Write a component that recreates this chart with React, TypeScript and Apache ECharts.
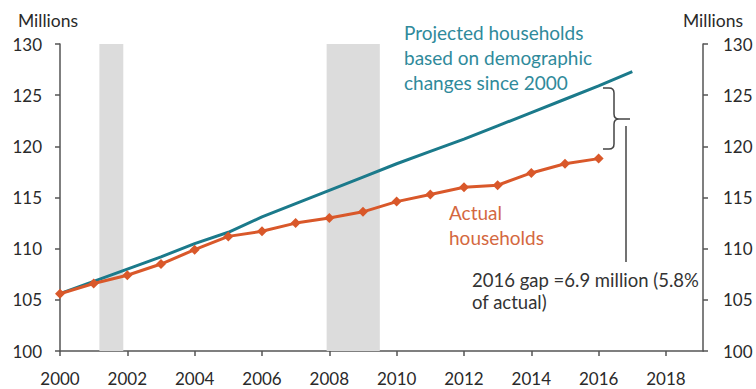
import React, { useEffect, useRef } from "react";
import * as echarts from "echarts";

const years = [2000, 2001, 2002, 2003, 2004, 2005, 2006, 2007, 2008, 2009, 2010, 2011, 2012, 2013, 2014, 2015, 2016, 2017];
const projected = [105.6, 106.8, 108.0, 109.2, 110.5, 111.6, 113.1, 114.4, 115.7, 117.0, 118.3, 119.5, 120.7, 122.0, 123.3, 124.6, 125.9, 127.3];
const actualYears = [2000, 2001, 2002, 2003, 2004, 2005, 2006, 2007, 2008, 2009, 2010, 2011, 2012, 2013, 2014, 2015, 2016];
const actual = [105.6, 106.6, 107.4, 108.5, 109.9, 111.2, 111.7, 112.5, 113.0, 113.6, 114.6, 115.3, 116.0, 116.2, 117.4, 118.3, 118.8];
const recessions: [number, number][] = [
  [2001.17, 2001.88],
  [2007.92, 2009.5],
];
const yTicks = { min: 100, max: 130, interval: 5 };
const xTicks = { min: 2000, max: 2019.1, interval: 2 };

const FONT = "Lato, 'Open Sans', sans-serif";
const TEAL = "#1b7a8b";
const ORANGE = "#d9582a";
const AXIS = "#555555";

const bracketPath =
  "M 603 88 L 609 88 Q 614 88 614 93 L 614 114 Q 614 119 619 119 L 630 119 M 619 119 Q 614 119 614 124 L 614 144 Q 614 149 609 149 L 603 149";
echarts.graphic.registerShape("bracket", echarts.graphic.extendPath(bracketPath, {}));

export default function App() {
  const ref = useRef<HTMLDivElement>(null);
  useEffect(() => {
    document.body.style.margin = "0";
    if (!ref.current) return;
    const chart = echarts.init(ref.current, undefined, { renderer: "svg" });
    const yAxisBase = (pos: "left" | "right") => ({
      type: "value" as const,
      position: pos,
      min: yTicks.min,
      max: yTicks.max,
      interval: yTicks.interval,
      axisLine: { show: true, lineStyle: { color: AXIS, width: 1.5 } },
      axisTick: { show: true, inside: false, length: 5, lineStyle: { color: AXIS, width: 1.5 } },
      splitLine: { show: false },
      axisLabel: { color: "#2a2a2a", fontSize: 17, fontFamily: FONT, margin: pos === "left" ? 18 : 20 },
    });
    chart.setOption({
      animation: false,
      backgroundColor: "#ffffff",
      grid: { left: 60, right: 53, top: 44, bottom: 38, containLabel: false },
      xAxis: {
        type: "value",
        min: xTicks.min,
        max: xTicks.max,
        interval: xTicks.interval,
        axisLine: { show: true, onZero: false, lineStyle: { color: AXIS, width: 1.5 } },
        axisTick: { show: true, length: 5, lineStyle: { color: AXIS, width: 1.5 } },
        splitLine: { show: false },
        axisLabel: {
          color: "#2a2a2a",
          fontSize: 17,
          fontFamily: FONT,
          margin: 19,
          showMaxLabel: false,
          formatter: (v: number) => String(Math.round(v)),
        },
      },
      yAxis: [yAxisBase("left"), yAxisBase("right")],
      series: [
        {
          type: "line",
          name: "recessions",
          data: [],
          z: 1,
          silent: true,
          markArea: {
            silent: true,
            itemStyle: { color: "#dcdcdc" },
            data: recessions.map(([a, b]) => [{ xAxis: a }, { xAxis: b }]),
          },
        },
        {
          type: "line",
          name: "Projected households",
          data: years.map((y, i) => [y, projected[i]]),
          showSymbol: false,
          lineStyle: { color: TEAL, width: 3 },
          itemStyle: { color: TEAL },
          z: 3,
        },
        {
          type: "line",
          name: "Actual households",
          data: actualYears.map((y, i) => [y, actual[i]]),
          symbol: "diamond",
          symbolSize: 10,
          lineStyle: { color: ORANGE, width: 3 },
          itemStyle: { color: ORANGE },
          z: 4,
        },
      ],
      graphic: [
        {
          type: "text",
          x: 48,
          y: 20,
          style: { text: "Millions", fill: "#2a2a2a", fontSize: 17.5, fontFamily: FONT, align: "center", verticalAlign: "middle" },
        },
        {
          type: "text",
          x: 713,
          y: 20,
          style: { text: "Millions", fill: "#2a2a2a", fontSize: 17.5, fontFamily: FONT, align: "center", verticalAlign: "middle" },
        },
        {
          type: "text",
          x: 404,
          y: 20,
          style: {
            text: "Projected households\nbased on demographic\nchanges since 2000",
            fill: "#2f8a9b",
            fontSize: 19,
            lineHeight: 25,
            fontFamily: FONT,
            verticalAlign: "top",
          },
        },
        {
          type: "text",
          x: 449,
          y: 200,
          style: {
            text: "Actual\nhouseholds",
            fill: "#d4683f",
            fontSize: 19,
            lineHeight: 25,
            fontFamily: FONT,
            verticalAlign: "top",
          },
        },
        {
          type: "text",
          x: 472,
          y: 269,
          style: {
            text: "2016 gap =6.9 million (5.8%\nof actual)",
            fill: "#333333",
            fontSize: 18.5,
            lineHeight: 22,
            fontFamily: FONT,
            verticalAlign: "top",
          },
        },
        {
          type: "bracket",
          x: 0,
          y: 0,
          scaleX: 1,
          scaleY: 1,
          style: { stroke: "#444444", fill: "none", lineWidth: 1.5 },
        },
        {
          type: "line",
          shape: { x1: 626, y1: 126, x2: 626, y2: 262 },
          style: { stroke: "#444444", lineWidth: 1.5 },
        },
      ],
    });
    return () => chart.dispose();
  }, []);
  return <div ref={ref} style={{ width: 756, height: 389 }} />;
}
